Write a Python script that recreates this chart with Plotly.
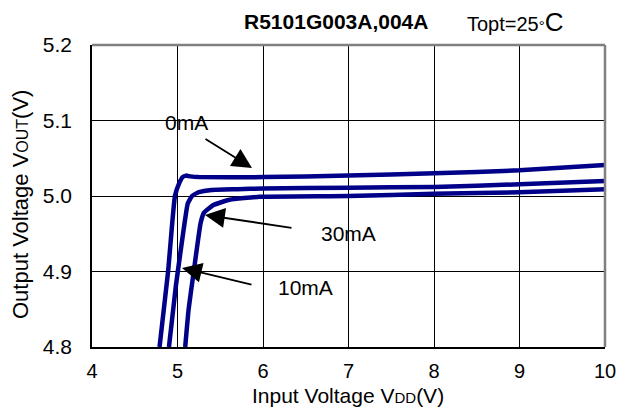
import plotly.graph_objects as go

# ---- data ----
x_0mA = [4.79, 4.89, 4.97, 5.02, 5.06, 5.10, 5.15, 5.25, 6, 7, 8, 9, 10]
y_0mA = [4.80, 4.90, 5.00, 5.017, 5.025, 5.027, 5.026, 5.025, 5.025, 5.027, 5.030, 5.034, 5.041]
x_10mA = [4.90, 4.98, 5.04, 5.09, 5.12, 5.17, 5.25, 5.4, 5.7, 6, 7, 8, 9, 10]
y_10mA = [4.80, 4.88, 4.93, 4.97, 4.99, 5.0, 5.005, 5.008, 5.009, 5.010, 5.011, 5.012, 5.0155, 5.020]
x_30mA = [5.09, 5.13, 5.19, 5.27, 5.31, 5.42, 5.61, 5.96, 7, 8, 9, 10]
y_30mA = [4.80, 4.85, 4.90, 4.964, 4.978, 4.988, 4.995, 4.999, 5.000, 5.003, 5.005, 5.009]

x_ticks = [4, 5, 6, 7, 8, 9, 10]
y_ticks = [4.8, 4.9, 5.0, 5.1, 5.2]
series_labels = ["0mA", "10mA", "30mA"]

FONT = "Liberation Sans, Arial, sans-serif"
W, H = 632, 410
L, R, T, B = 92, 27, 45, 63
PW, PH = W - L - R, H - T - B


def px_to_data(px, py):
    return 4 + (px - L) / PW * 6, 5.2 - (py - T) / PH * 0.4


def px_to_paper(px, py):
    return (px - L) / PW, 1 - (py - T) / PH


fig = go.Figure()
for xs, ys, name in [(x_0mA, y_0mA, series_labels[0]), (x_10mA, y_10mA, series_labels[1]),
                     (x_30mA, y_30mA, series_labels[2])]:
    fig.add_trace(go.Scatter(x=xs, y=ys, mode="lines", name=name, showlegend=False,
                             line=dict(color="#000088", width=4.5, shape="spline", smoothing=0.4)))

axis_common = dict(showgrid=True, gridcolor="black", gridwidth=1, showline=True,
                   linecolor="black", linewidth=1.5, mirror=False, ticks="",
                   zeroline=False)
fig.update_xaxes(range=[4, 10], tickvals=x_ticks, ticktext=[str(v) for v in x_ticks],
                 ticklabelstandoff=5, tickfont=dict(family=FONT, size=20, color="black"),
                 **axis_common)
fig.update_yaxes(range=[4.8, 5.2], tickvals=y_ticks, ticktext=[f"{v:.1f}" for v in y_ticks],
                 ticklabelstandoff=14, tickfont=dict(family=FONT, size=21, color="black"),
                 **axis_common)

# grey top / right frame
fig.add_shape(type="line", xref="paper", yref="paper", x0=0, x1=1, y0=1, y1=1,
              line=dict(color="#808080", width=2.5))
fig.add_shape(type="line", xref="paper", yref="paper", x0=1, x1=1, y0=0, y1=1,
              line=dict(color="#808080", width=2.5))

ann = []
arrows = [((252, 168), (204, 138)), ((205, 215), (293, 228)), ((182, 268), (253, 285))]
for (tip, tail) in arrows:
    tx, ty = px_to_data(*tip)
    ax, ay = px_to_data(*tail)
    ann.append(dict(x=tx, y=ty, ax=ax, ay=ay, xref="x", yref="y", axref="x", ayref="y",
                    text="", showarrow=True, arrowhead=2, arrowsize=2.2, arrowwidth=1.8,
                    arrowcolor="black"))

label_pos = {"0mA": (186, 122), "30mA": (348, 233), "10mA": (305, 287)}
for lab in series_labels:
    px, py = label_pos[lab]
    x, y = px_to_data(px, py)
    ann.append(dict(x=x, y=y, xref="x", yref="y", text=lab, showarrow=False,
                    font=dict(family=FONT, size=21, color="black")))

# titles
x, y = px_to_paper(430, 21)
ann.append(dict(x=x, y=y, xref="paper", yref="paper", xanchor="right", yanchor="middle",
                text="<b>R5101G003A,004A</b>", showarrow=False,
                font=dict(family=FONT, size=21, color="black")))
x, y = px_to_paper(465, 22)
ann.append(dict(x=x, y=y, xref="paper", yref="paper", xanchor="left", yanchor="middle",
                text="Topt=25<span style='font-size:15px'>°</span><span style='font-size:26px'>C</span>",
                showarrow=False, font=dict(family=FONT, size=20, color="black")))
x, y = px_to_paper(348, 395)
ann.append(dict(x=x, y=y, xref="paper", yref="paper", xanchor="center", yanchor="middle",
                text="Input Voltage V<span style='font-size:15px'>DD</span>(V)",
                showarrow=False, font=dict(family=FONT, size=21, color="black")))
x, y = px_to_paper(20, 205)
ann.append(dict(x=x, y=y, xref="paper", yref="paper", xanchor="center", yanchor="middle",
                textangle=-90,
                text="Output Voltage V<span style='font-size:16px'>OUT</span>(V)",
                showarrow=False, font=dict(family=FONT, size=22, color="black")))

fig.update_layout(
    width=W, height=H, margin=dict(l=L, r=R, t=T, b=B, autoexpand=False),
    paper_bgcolor="white", plot_bgcolor="white",
    font=dict(family=FONT, color="black"),
    annotations=ann,
)

fig.write_html("out.html", config={"displayModeBar": False},
               post_script="document.body.style.margin='0px';")
